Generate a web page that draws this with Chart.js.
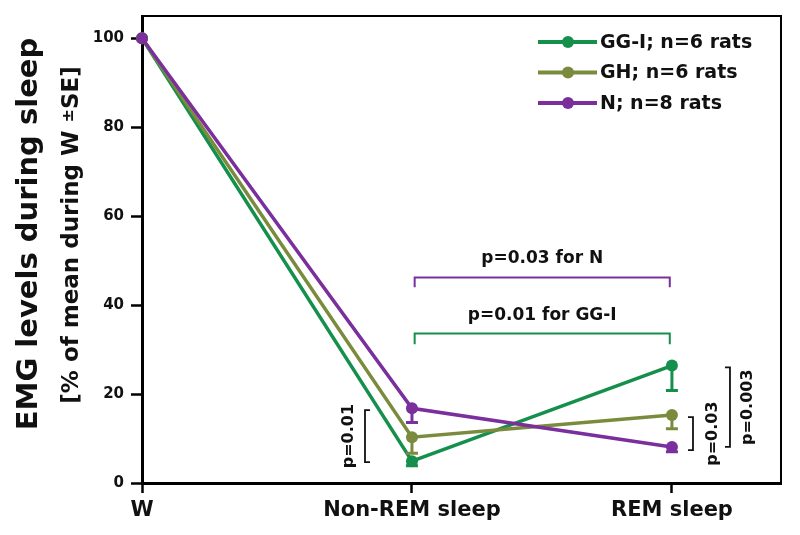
<!DOCTYPE html>
<html>
<head>
<meta charset="utf-8">
<script src="https://cdn.jsdelivr.net/npm/chart.js@4/dist/chart.umd.min.js"></script>
<style>
  html, body { margin: 0; padding: 0; background: #fff; }
</style>
</head>
<body>
<canvas id="grafico" width="800" height="535"></canvas>
<script>
// categories on the x axis and their positions
const categories = ['W', 'Non-REM sleep', 'REM sleep'];
const categoryPos = [0, 1, 1.963];

// series values (% of mean during W) and the lower SE
const ggI = [100, 4.9, 26.4];
const ggIErr = [0, 1.0, 5.6];
const gh = [100, 10.3, 15.3];
const ghErr = [0, 3.6, 3.1];
const nRats = [100, 16.8, 8.1];
const nErr = [0, 3.2, 1.1];

const seriesNames = ['GG-I; n=6 rats', 'GH; n=6 rats', 'N; n=8 rats'];
const yTicks = [0, 20, 40, 60, 80, 100];

const GREEN = '#15904c';
const OLIVE = '#7b8b3d';
const PURPLE = '#7a2f9c';
const FONT = '"DejaVu Sans", Arial, sans-serif';

// significance brackets (in data units)
const hBrackets = [
    { from: 1.01, to: 1.955, y: 46.2, drop: 2.2, color: PURPLE, text: 'p=0.03 for N', textY: 50.4 },
    { from: 1.01, to: 1.955, y: 33.6, drop: 2.4, color: GREEN, text: 'p=0.01 for GG-I', textY: 37.6 }
];
const vBrackets = [
    { x: 0.826, y1: 16.4, y2: 4.7, dir: 1, text: 'p=0.01', textX: 0.765 },
    { x: 2.041, y1: 14.8, y2: 7.4, dir: -1, text: 'p=0.03', textX: 2.115 },
    { x: 2.178, y1: 26.0, y2: 8.1, dir: -1, text: 'p=0.003', textX: 2.245 }
];

function puntos(vals) {
    return vals.map((v, i) => ({ x: categoryPos[i], y: v }));
}

const series = [
    { label: seriesNames[0], data: ggI, err: ggIErr, color: GREEN, order: 3 },
    { label: seriesNames[1], data: gh, err: ghErr, color: OLIVE, order: 2 },
    { label: seriesNames[2], data: nRats, err: nErr, color: PURPLE, order: 1 }
];

const extras = {
    id: 'extras',
    afterDatasetsDraw(chart) {
        const ctx = chart.ctx;
        const xs = chart.scales.x;
        const ys = chart.scales.y;
        ctx.save();
        // error bars (downward only)
        series.forEach(s => {
            ctx.strokeStyle = s.color;
            ctx.lineWidth = 3;
            s.data.forEach((v, i) => {
                if (!s.err[i]) return;
                const px = xs.getPixelForValue(categoryPos[i]);
                const top = ys.getPixelForValue(v);
                const bot = ys.getPixelForValue(v - s.err[i]);
                ctx.beginPath();
                ctx.moveTo(px, top);
                ctx.lineTo(px, bot);
                ctx.moveTo(px - 6, bot);
                ctx.lineTo(px + 6, bot);
                ctx.stroke();
            });
        });
        ctx.restore();
    },
    afterDraw(chart) {
        const ctx = chart.ctx;
        const xs = chart.scales.x;
        const ys = chart.scales.y;
        const area = chart.chartArea;
        ctx.save();

        // top and right frame
        ctx.strokeStyle = '#000';
        ctx.lineWidth = 2;
        ctx.beginPath();
        ctx.moveTo(area.left, area.top);
        ctx.lineTo(area.right, area.top);
        ctx.lineTo(area.right, area.bottom);
        ctx.stroke();

        // horizontal brackets
        hBrackets.forEach(b => {
            const x1 = xs.getPixelForValue(b.from);
            const x2 = xs.getPixelForValue(b.to);
            const y = ys.getPixelForValue(b.y);
            const yd = ys.getPixelForValue(b.y - b.drop);
            ctx.strokeStyle = b.color;
            ctx.lineWidth = 2;
            ctx.beginPath();
            ctx.moveTo(x1, yd);
            ctx.lineTo(x1, y);
            ctx.lineTo(x2, y);
            ctx.lineTo(x2, yd);
            ctx.stroke();
            ctx.fillStyle = '#111';
            ctx.font = 'bold 17px ' + FONT;
            ctx.textAlign = 'center';
            ctx.textBaseline = 'middle';
            ctx.fillText(b.text, (x1 + x2) / 2, ys.getPixelForValue(b.textY));
        });

        // vertical brackets
        vBrackets.forEach(b => {
            const x = xs.getPixelForValue(b.x);
            const y1 = ys.getPixelForValue(b.y1);
            const y2 = ys.getPixelForValue(b.y2);
            ctx.strokeStyle = '#111';
            ctx.lineWidth = 1.8;
            ctx.beginPath();
            ctx.moveTo(x + 5 * b.dir, y1);
            ctx.lineTo(x, y1);
            ctx.lineTo(x, y2);
            ctx.lineTo(x + 5 * b.dir, y2);
            ctx.stroke();
            ctx.save();
            ctx.translate(xs.getPixelForValue(b.textX), (y1 + y2) / 2);
            ctx.rotate(-Math.PI / 2);
            ctx.fillStyle = '#111';
            ctx.font = 'bold 16px ' + FONT;
            ctx.textAlign = 'center';
            ctx.textBaseline = 'middle';
            ctx.fillText(b.text, 0, 0);
            ctx.restore();
        });

        // legend
        ctx.textAlign = 'left';
        ctx.textBaseline = 'middle';
        ctx.font = 'bold 19px ' + FONT;
        series.forEach((s, i) => {
            const y = 42 + i * 30.5;
            ctx.strokeStyle = s.color;
            ctx.lineWidth = 4;
            ctx.beginPath();
            ctx.moveTo(538, y);
            ctx.lineTo(597, y);
            ctx.stroke();
            ctx.fillStyle = s.color;
            ctx.beginPath();
            ctx.arc(568, y, 6, 0, Math.PI * 2);
            ctx.fill();
            ctx.fillStyle = '#111';
            ctx.fillText(s.label, 600, y + 1);
        });

        // y axis title, two lines
        const cy = 234;
        ctx.save();
        ctx.translate(37, cy);
        ctx.rotate(-Math.PI / 2);
        ctx.textAlign = 'center';
        ctx.textBaseline = 'alphabetic';
        ctx.fillStyle = '#111';
        ctx.font = 'bold 29px ' + FONT;
        ctx.fillText('EMG levels during sleep', 0, 0);
        ctx.restore();

        ctx.save();
        ctx.translate(78, cy + 1);
        ctx.rotate(-Math.PI / 2);
        ctx.textBaseline = 'alphabetic';
        ctx.fillStyle = '#111';
        const parts = [
            { t: '[% of mean during W ', f: 'bold 23px ' + FONT },
            { t: '±', f: 'bold 16px ' + FONT },
            { t: 'SE]', f: 'bold 23px ' + FONT }
        ];
        let total = 0;
        parts.forEach(p => { ctx.font = p.f; p.w = ctx.measureText(p.t).width; total += p.w; });
        let pos = -total / 2;
        ctx.textAlign = 'left';
        parts.forEach(p => {
            ctx.font = p.f;
            ctx.fillText(p.t, pos, p.t === '±' ? -5 : 0);
            pos += p.w;
        });
        ctx.restore();

        ctx.restore();
    }
};

const ctx = document.getElementById('grafico').getContext('2d');
new Chart(ctx, {
    type: 'line',
    data: {
        datasets: series.map(s => ({
            label: s.label,
            data: puntos(s.data),
            borderColor: s.color,
            backgroundColor: s.color,
            pointBackgroundColor: s.color,
            pointBorderColor: s.color,
            pointRadius: 6,
            pointBorderWidth: 0,
            borderWidth: 3.5,
            fill: false,
            tension: 0,
            order: s.order,
            clip: false
        }))
    },
    options: {
        responsive: false,
        animation: false,
        layout: { padding: { top: 15, right: 19, left: 0, bottom: 0 } },
        plugins: {
            legend: { display: false },
            tooltip: { enabled: false }
        },
        scales: {
            x: {
                type: 'linear',
                min: 0,
                max: 2.367,
                afterBuildTicks: scale => {
                    scale.ticks = categoryPos.map(v => ({ value: v }));
                },
                afterFit: scale => { scale.height = 52; },
                ticks: {
                    callback: (v) => categories[categoryPos.indexOf(v)],
                    color: '#111',
                    font: { family: FONT, size: 21, weight: 'bold' },
                    padding: 5,
                    maxRotation: 0,
                    autoSkip: false
                },
                grid: {
                    drawOnChartArea: false,
                    drawTicks: true,
                    tickLength: 10,
                    tickColor: '#000',
                    tickWidth: 2.5
                },
                border: { color: '#000', width: 3 }
            },
            y: {
                min: 0,
                max: 105,
                afterBuildTicks: scale => {
                    scale.ticks = yTicks.map(v => ({ value: v }));
                },
                afterFit: scale => { scale.width = 142; },
                ticks: {
                    color: '#111',
                    font: { family: FONT, size: 15, weight: 'bold' },
                    padding: 7
                },
                grid: {
                    drawOnChartArea: false,
                    drawTicks: true,
                    tickLength: 11,
                    tickColor: '#000',
                    tickWidth: 2.5
                },
                border: { color: '#000', width: 3 }
            }
        }
    },
    plugins: [extras]
});
</script>
</body>
</html>
